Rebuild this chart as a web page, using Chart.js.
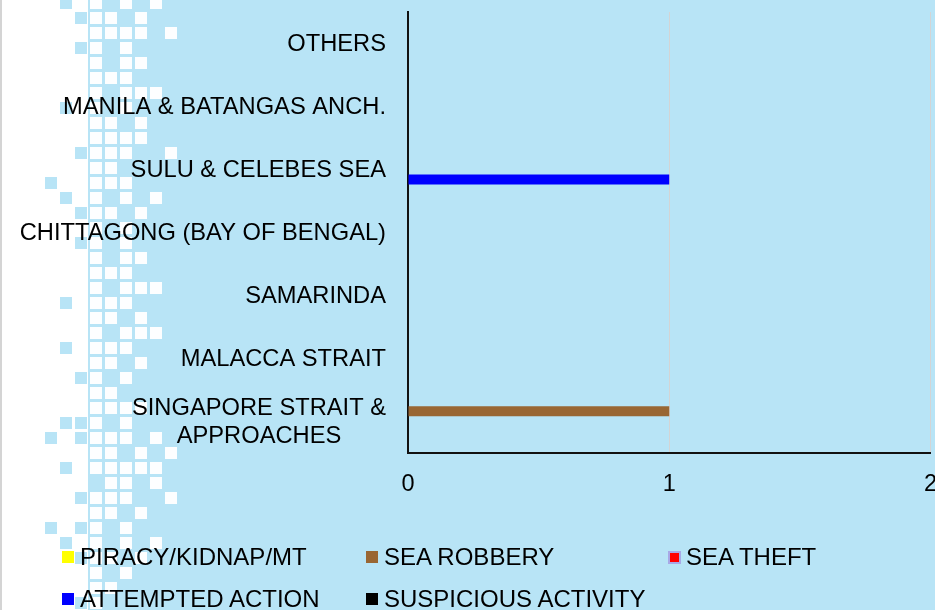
<!DOCTYPE html>
<html>
<head>
<meta charset="utf-8">
<script src="https://cdn.jsdelivr.net/npm/chart.js@4"></script>
<style>
    html, body { margin: 0; padding: 0; overflow: hidden; background: #b8e4f6; }
    #wrap { position: relative; width: 955px; height: 610px; }
    .lg-box { position: absolute; width: 12px; height: 12px; }
    .lg-text { position: absolute; font: 24px "Liberation Sans", Arial, sans-serif; line-height: 24px; color: #000; white-space: nowrap; }
</style>
</head>
<body>
<div id="wrap">
    <canvas id="piracyChart"></canvas>
</div>
<script>
// Chart data
const categories = [
    'OTHERS',
    'MANILA & BATANGAS ANCH.',
    'SULU & CELEBES SEA',
    'CHITTAGONG (BAY OF BENGAL)',
    'SAMARINDA',
    'MALACCA STRAIT',
    ['SINGAPORE STRAIT &', 'APPROACHES']
];
const piracyKidnap = [0, 0, 0, 0, 0, 0, 0];
const seaRobbery = [0, 0, 0, 0, 0, 0, 1];
const seaTheft = [0, 0, 0, 0, 0, 0, 0];
const attemptedAction = [0, 0, 1, 0, 0, 0, 0];
const suspiciousActivity = [0, 0, 0, 0, 0, 0, 0];
const xMin = 0, xMax = 2, xStep = 1;

const seriesNames = ['PIRACY/KIDNAP/MT', 'SEA ROBBERY', 'SEA THEFT', 'ATTEMPTED ACTION', 'SUSPICIOUS ACTIVITY'];
const seriesColors = ['#ffff00', '#996633', '#ff0000', '#0000ff', '#000000'];
const seriesData = [piracyKidnap, seaRobbery, seaTheft, attemptedAction, suspiciousActivity];

const BG_BLUE = '#b8e4f6';
const FONT = '"Liberation Sans", Arial, sans-serif';

// Decorative pixel strip on the left (columns at x = 45, 60 ... 165)
// b = blue square on white, w = white square on blue
const strip = [
    '.b.w.w.w.', '..bww.w..', '...wwww.w', '..bw.w...', '...w.ww..',
    '...www...', '...w.www.', '.b.w.w...', '...ww.w..', '...wwww..',
    '..bwww..w', '...ww....', 'b..www...', '.b.w.w.w.', '..bww.w..',
    '...w.w...', '..bw.w...', '...w.ww..', '...www...', '...w.www.',
    '.b.www...', '...ww.w..', '...w.www.', '.b.www...', '...ww.w..',
    '..bw.w...', '...ww....', '...wwww..', '.bbw.w...', 'b.bwww.w.',
    '...ww.w.w', '.b.wwwww.', '....ww.w.', '..bwww..w', '...ww.w..',
    'b.bw.w...', '.b.w.w.w.', '..bww.w..', '...w.w...', '...ww....',
    '..bw.....'
];

const backgroundPlugin = {
    id: 'background',
    beforeDraw(chart) {
        const c = chart.ctx;
        c.save();
        c.fillStyle = '#ffffff';
        c.fillRect(0, 0, 88, chart.height);
        c.fillStyle = BG_BLUE;
        c.fillRect(88, 0, chart.width - 88, chart.height);
        strip.forEach((row, k) => {
            const top = -3 + 15 * k;
            for (let j = 0; j < row.length; j++) {
                const ch = row[j];
                if (ch === '.') continue;
                c.fillStyle = ch === 'b' ? BG_BLUE : '#fdfeff';
                c.fillRect(45 + 15 * j, top, 12, 12);
            }
        });
        c.fillStyle = '#d4d4d4';
        c.fillRect(0, 0, 2, chart.height);
        c.restore();
    }
};

// Category labels: single lines right aligned, wrapped lines centred on each other
const categoryLabelPlugin = {
    id: 'categoryLabels',
    afterDraw(chart) {
        const c = chart.ctx;
        const yScale = chart.scales.y;
        const rightX = chart.chartArea.left - 22;
        const lineH = 28;
        c.save();
        c.font = '23.7px ' + FONT;
        c.fillStyle = '#000';
        c.textBaseline = 'middle';
        categories.forEach((label, i) => {
            const lines = Array.isArray(label) ? label : [label];
            const py = yScale.getPixelForValue(i);
            const maxW = Math.max(...lines.map(l => c.measureText(l).width));
            const startY = py + 1 - (lines.length - 1) * lineH / 2;
            lines.forEach((line, n) => {
                if (lines.length > 1) {
                    c.textAlign = 'center';
                    c.fillText(line, rightX - maxW / 2, startY + n * lineH);
                } else {
                    c.textAlign = 'right';
                    c.fillText(line, rightX, startY);
                }
            });
        });
        c.restore();
    }
};

const datasets = seriesNames.map((name, i) => ({
    label: name,
    data: seriesData[i],
    backgroundColor: seriesColors[i],
    borderWidth: 0,
    categoryPercentage: 0.795,
    barPercentage: 1.0
}));

const ctx = document.getElementById('piracyChart').getContext('2d');
const chart = new Chart(ctx, {
    type: 'bar',
    data: { labels: categories, datasets: datasets },
    options: {
        indexAxis: 'y',
        responsive: true,
        maintainAspectRatio: false,
        animation: false,
        layout: { padding: { top: 12, right: 0, bottom: 93, left: 0 } },
        plugins: {
            legend: { display: false },
            tooltip: { enabled: false }
        },
        scales: {
            x: {
                min: xMin,
                max: xMax,
                ticks: {
                    stepSize: xStep,
                    color: '#000',
                    padding: 18,
                    font: { family: FONT, size: 23.5 }
                },
                grid: {
                    drawTicks: false,
                    color: c => (c.tick && c.tick.value === 0 ? 'rgba(0,0,0,0)' : '#d4d4d4'),
                    lineWidth: 1
                },
                border: { display: true, color: '#111', width: 2 }
            },
            y: {
                ticks: { display: false },
                grid: { display: false, drawTicks: false },
                border: { display: true, color: '#111', width: 2 },
                afterFit: scale => { scale.width = 408; }
            }
        }
    },
    plugins: [backgroundPlugin, categoryLabelPlugin]
});

// Legend laid out in three columns, two rows
const legendSpots = [
    { x: 62, y: 551 }, { x: 366, y: 551 }, { x: 668, y: 551 },
    { x: 62, y: 593 }, { x: 366, y: 593 }
];
const wrap = document.getElementById('wrap');
seriesNames.forEach((name, i) => {
    const spot = legendSpots[i];
    const box = document.createElement('div');
    box.className = 'lg-box';
    box.style.left = spot.x + 'px';
    box.style.top = spot.y + 'px';
    box.style.background = seriesColors[i];
    if (name === 'SEA THEFT') {
        box.style.width = '9px';
        box.style.height = '9px';
        box.style.border = '2px solid #a8a8e6';
    }
    wrap.appendChild(box);
    const txt = document.createElement('div');
    txt.className = 'lg-text';
    txt.style.left = (spot.x + 18) + 'px';
    txt.style.top = (spot.y - 6) + 'px';
    txt.innerText = name;
    wrap.appendChild(txt);
});
</script>
</body>
</html>
